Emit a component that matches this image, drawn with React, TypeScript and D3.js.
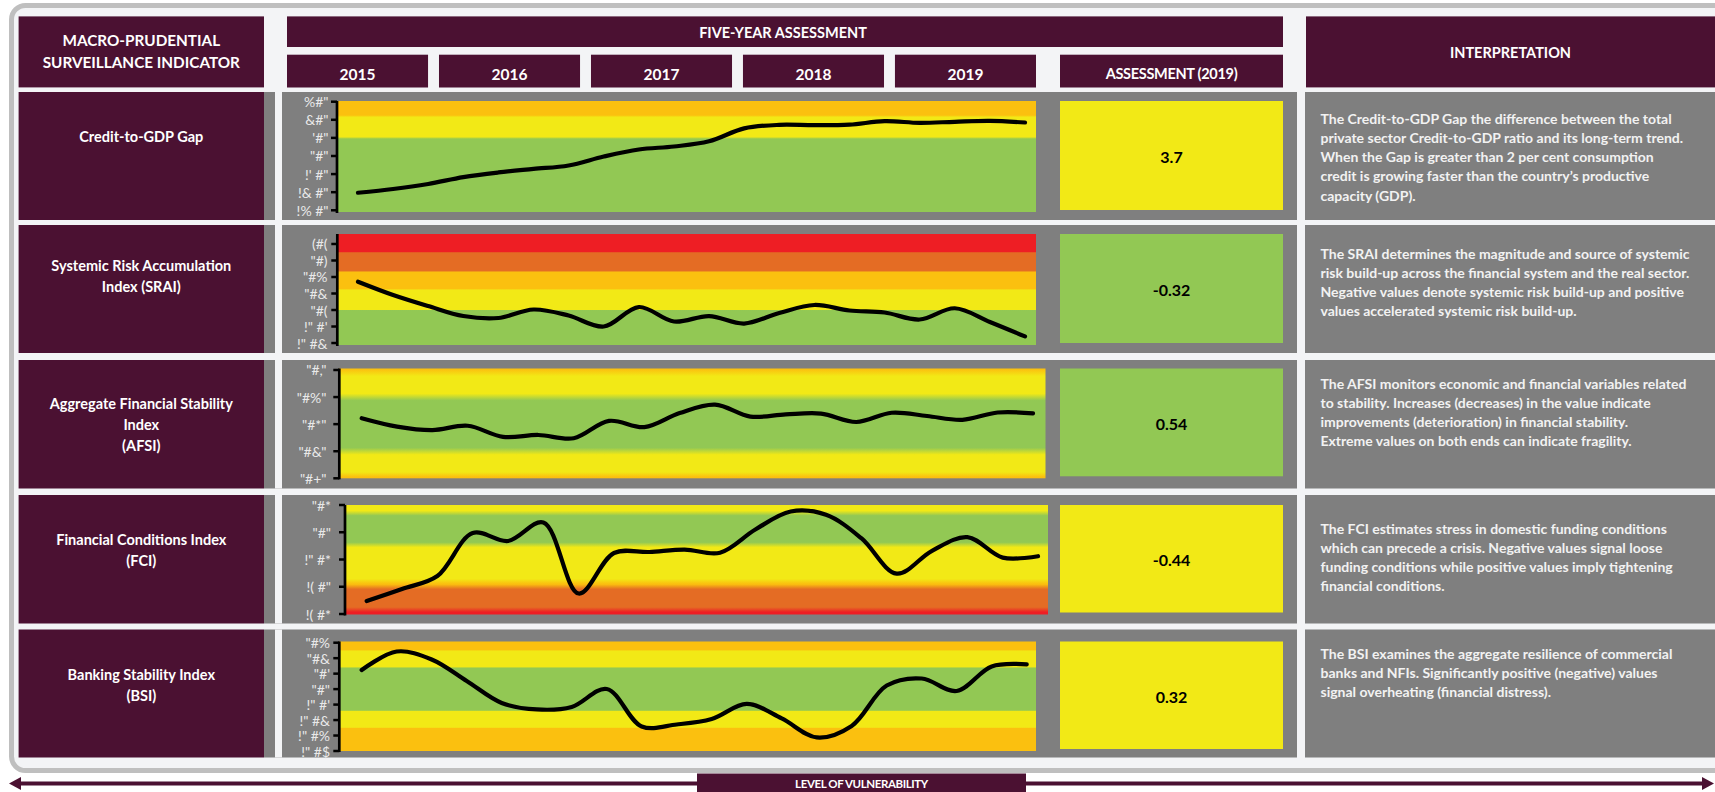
import React, { useEffect, useRef } from 'react';
import * as d3 from 'd3';

// ---------- DATA ----------
const quarters = [
  '2015Q1', '2015Q2', '2015Q3', '2015Q4',
  '2016Q1', '2016Q2', '2016Q3', '2016Q4',
  '2017Q1', '2017Q2', '2017Q3', '2017Q4',
  '2018Q1', '2018Q2', '2018Q3', '2018Q4',
  '2019Q1', '2019Q2', '2019Q3', '2019Q4',
];
const years = ['2015', '2016', '2017', '2018', '2019'];

const creditGap = [-4.06, -3.65, -3.09, -2.33, -1.82, -1.43, -1.05, -0.06, 0.72, 1.05, 1.62, 3.05, 3.44, 3.40, 3.46, 3.85, 3.66, 3.78, 3.87, 3.70];
const srai = [0.343, 0.182, 0.048, -0.073, -0.097, 0.006, -0.067, -0.2, 0.036, -0.139, -0.073, -0.164, -0.036, 0.061, -0.006, -0.03, -0.115, 0.021, -0.145, -0.32];
const afsi = [0.522, 0.491, 0.478, 0.494, 0.453, 0.46, 0.448, 0.512, 0.489, 0.541, 0.572, 0.528, 0.536, 0.539, 0.508, 0.542, 0.53, 0.516, 0.543, 0.54];
const fci = [-1.261, -1.041, -0.803, -0.014, -0.161, 0.179, -1.124, -0.381, -0.362, -0.317, -0.375, 0.05, 0.38, 0.32, -0.11, -0.759, -0.34, -0.09, -0.465, -0.44];
const bsi = [0.247, 0.486, 0.383, 0.105, -0.179, -0.263, -0.231, 0.002, -0.483, -0.457, -0.386, -0.192, -0.379, -0.625, -0.476, 0.046, 0.137, -0.024, 0.293, 0.32];

const creditTicks = [6, 4, 2, 0, -2, -4, -6];
const creditTickLabels = ['%#"', '&#"', "'#\"", '"#"', "!' #\"", '!& #"', '!% #"'];
const sraiTicks = [0.8, 0.6, 0.4, 0.2, 0, -0.2, -0.4];
const sraiTickLabels = ['(#(', '"#)', '"#%', '"#&', '"#(', '!" #\'', '!" #&'];
const afsiTicks = [0.7, 0.6, 0.5, 0.4, 0.3];
const afsiTickLabels = ['"#,"', '"#%"', '"#*"', '"#&"', '"#+"'];
const fciTicks = [0.5, 0, -0.5, -1, -1.5];
const fciTickLabels = ['"#*', '"#"', '!" #*', '!( #"', '!( #*'];
const bsiTicks = [0.6, 0.4, 0.2, 0, -0.2, -0.4, -0.6, -0.8];
const bsiTickLabels = ['"#%', '"#&', '"#\'', '"#"', '!" #\'', '!" #&', '!" #%', '!" #$'];

// threshold zones: [from, to, level]
type Zone = [number, number, string];
const creditZones: Zone[] = [[-6.2, 2, 'green'], [2, 4.4, 'yellow'], [4.4, 6.1, 'orange']];
const sraiZones: Zone[] = [[-0.43, 0, 'green'], [0, 0.25, 'yellow'], [0.25, 0.467, 'orange'], [0.467, 0.7, 'darkOrange'], [0.7, 0.93, 'red']];
const afsiZones: Zone[] = [[0.3, 0.31, 'orange'], [0.31, 0.4, 'yellow'], [0.4, 0.6, 'green'], [0.6, 0.69, 'yellow'], [0.69, 0.71, 'orange']];
const fciZones: Zone[] = [[-1.51, -1.42, 'red'], [-1.42, -1.0, 'darkOrange'], [-1.0, -0.9, 'orange'], [-0.9, -0.23, 'yellow'], [-0.23, 0.35, 'green'], [0.35, 0.5, 'yellow']];
const bsiZones: Zone[] = [[-0.8, -0.5, 'orange'], [-0.5, -0.28, 'yellow'], [-0.28, 0.28, 'green'], [0.28, 0.5, 'yellow'], [0.5, 0.62, 'orange']];

const indicatorNames = [
  ['Credit-to-GDP Gap'],
  ['Systemic Risk Accumulation', 'Index (SRAI)'],
  ['Aggregate Financial Stability', 'Index', '(AFSI)'],
  ['Financial Conditions Index', '(FCI)'],
  ['Banking Stability Index', '(BSI)'],
];
const assessmentValues = ['3.7', '-0.32', '0.54', '-0.44', '0.32'];
const assessmentLevels = ['yellow', 'green', 'green', 'yellow', 'yellow'];
const interpretations = [
  ['The Credit-to-GDP Gap the difference between the total', 'private sector Credit-to-GDP ratio and its long-term trend.', 'When the Gap is greater than 2 per cent consumption', 'credit is growing faster than the country\u2019s productive', 'capacity (GDP).'],
  ['The SRAI determines the magnitude and source of systemic', 'risk build-up across the financial system and the real sector.', 'Negative values denote systemic risk build-up and positive', 'values accelerated systemic risk build-up.'],
  ['The AFSI monitors economic and financial variables related', 'to stability. Increases (decreases) in the value indicate', 'improvements (deterioration) in financial stability.', 'Extreme values on both ends can indicate fragility.'],
  ['The FCI estimates stress in domestic funding conditions', 'which can precede a crisis. Negative values signal loose', 'funding conditions while positive values imply tightening', 'financial conditions.'],
  ['The BSI examines the aggregate resilience of commercial', 'banks and NFIs. Significantly positive (negative) values', 'signal overheating (financial distress).'],
];

const seriesList = [creditGap, srai, afsi, fci, bsi];
const tickList = [creditTicks, sraiTicks, afsiTicks, fciTicks, bsiTicks];
const tickLabelList = [creditTickLabels, sraiTickLabels, afsiTickLabels, fciTickLabels, bsiTickLabels];
const zoneList = [creditZones, sraiZones, afsiZones, fciZones, bsiZones];

// ---------- STYLE / LAYOUT ----------
const COLORS: Record<string, string> = {
  green: '#92c854',
  yellow: '#f2e916',
  orange: '#fbc00f',
  darkOrange: '#e46c24',
  red: '#ee1e24',
};
const PURPLE = '#4b1132';
const PANEL = '#7f7f7f';
const LIGHT = '#f3f4f6';
const FONT = 'Lato, "Open Sans", sans-serif';

const ROWS = [
  { top: 92, bottom: 220, plotTop: 101, plotBottom: 212, axisX: 337, plotRight: 1036, x0: 358, x1: 1025, dom: [-6.19, 6.077], blend: 2, labelRight: 328.5, nameY: 44.7, textY: 26.3 },
  { top: 225, bottom: 353, plotTop: 234, plotBottom: 345, axisX: 337.3, plotRight: 1036, x0: 358, x1: 1025, dom: [-0.424, 0.921], blend: 1, labelRight: 327.5, nameY: 40.8, textY: 28.3 },
  { top: 360, bottom: 488.5, plotTop: 368.5, plotBottom: 478.3, axisX: 339.3, plotRight: 1045.5, x0: 361.7, x1: 1033, dom: [0.3, 0.7055], blend: 7, labelRight: 326.5, nameY: 43.6, textY: 23.3 },
  { top: 495, bottom: 623.5, plotTop: 505, plotBottom: 614.5, axisX: 345, plotRight: 1048, x0: 366.7, x1: 1038, dom: [-1.509, 0.5], blend: 5, labelRight: 331, nameY: 44.2, textY: 33.3 },
  { top: 629.5, bottom: 757.5, plotTop: 641.5, plotBottom: 751, axisX: 339.3, plotRight: 1036, x0: 361.7, x1: 1026.7, dom: [-0.8, 0.6155], blend: 1, labelRight: 330, nameY: 45.3, textY: 23.8 },
];

function zoneStops(zones: Zone[], y: d3.ScaleLinear<number, number>, top: number, bottom: number, blend: number) {
  const sorted = [...zones].sort((a, b) => b[1] - a[1]);
  const h = bottom - top;
  const stops: { offset: number; color: string }[] = [];
  sorted.forEach((z, i) => {
    const y0 = Math.max(top, y(z[1]));
    const y1 = Math.min(bottom, y(z[0]));
    let s = i === 0 ? y0 : y0 + blend / 2;
    let e = i === sorted.length - 1 ? y1 : y1 - blend / 2;
    if (e < s) { const m = (y0 + y1) / 2; s = m; e = m; }
    const c = COLORS[z[2]];
    stops.push({ offset: Math.min(1, Math.max(0, (s - top) / h)), color: c });
    stops.push({ offset: Math.min(1, Math.max(0, (e - top) / h)), color: c });
  });
  return stops;
}

function ChartRow({ idx }: { idx: number }) {
  const r = ROWS[idx];
  const data = seriesList[idx];
  const x = d3.scalePoint<string>().domain(quarters).range([r.x0, r.x1]);
  const y = d3.scaleLinear().domain(r.dom).range([r.plotBottom, r.plotTop]);
  const line = d3.line<number>()
    .x((_, i) => x(quarters[i]) as number)
    .y((d) => y(d))
    .curve(d3.curveCatmullRom.alpha(0.5));
  const stops = zoneStops(zoneList[idx], y, r.plotTop, r.plotBottom, r.blend);
  const gid = `zones-${idx}`;
  return (
    <g>
      <defs>
        <linearGradient id={gid} x1="0" y1="0" x2="0" y2="1">
          {stops.map((s, i) => (
            <stop key={i} offset={s.offset} stopColor={s.color} />
          ))}
        </linearGradient>
      </defs>
      <rect x={r.axisX} y={r.plotTop} width={r.plotRight - r.axisX} height={r.plotBottom - r.plotTop} fill={`url(#${gid})`} />
      <line x1={r.axisX} x2={r.axisX} y1={r.plotTop} y2={r.plotBottom + 1} stroke="#000" strokeWidth={2.7} />
      {tickList[idx].map((t, i) => (
        <g key={i}>
          <line x1={r.axisX - 6} x2={r.axisX} y1={y(t)} y2={y(t)} stroke="#000" strokeWidth={2.5} />
          <text x={r.labelRight} y={y(t)} textAnchor="end" dominantBaseline="central" fontFamily={FONT} fontSize={14} fill="#e9e9e9" style={{ whiteSpace: 'pre' }}>
            {tickLabelList[idx][i]}
          </text>
        </g>
      ))}
      <path d={line(data) || ''} fill="none" stroke="#000" strokeWidth={4.2} strokeLinecap="round" strokeLinejoin="round" />
    </g>
  );
}

export default function App() {
  const svgRef = useRef<SVGSVGElement>(null);
  useEffect(() => {
    document.body.style.margin = '0';
    const svg = svgRef.current;
    if (!svg) return;
    svg.querySelectorAll<SVGTextElement>('text[data-maxw]').forEach((t) => {
      const maxw = Number(t.getAttribute('data-maxw'));
      const w = t.getComputedTextLength();
      if (w > maxw) {
        t.setAttribute('textLength', String(maxw));
        t.setAttribute('lengthAdjust', 'spacingAndGlyphs');
      }
    });
  }, []);

  const yearBand = d3.scaleBand<string>().domain(years).range([287, 1036]).paddingInner(0.072).paddingOuter(0);

  return (
    <svg ref={svgRef} width={1715} height={792} style={{ position: 'absolute', left: 0, top: 0, display: 'block' }} fontFamily={FONT}>
      <rect x={0} y={0} width={1715} height={792} fill="#ffffff" />
      {/* outer frame */}
      <rect x={11.5} y={5.5} width={1740} height={765} rx={14} fill={LIGHT} stroke="#bfbfbf" strokeWidth={5} />

      {/* header */}
      <rect x={18.6} y={16.4} width={245.4} height={71} fill={PURPLE} />
      <text x={141.3} y={39.5} textAnchor="middle" dominantBaseline="central" fill="#fff" fontWeight={700} fontSize={15.3}>MACRO-PRUDENTIAL</text>
      <text x={141.3} y={61.5} textAnchor="middle" dominantBaseline="central" fill="#fff" fontWeight={700} fontSize={15.3}>SURVEILLANCE INDICATOR</text>

      <rect x={287} y={16.4} width={996} height={30.6} fill={PURPLE} />
      <text x={783} y={32} textAnchor="middle" dominantBaseline="central" fill="#fff" fontWeight={700} fontSize={14.5}>FIVE-YEAR ASSESSMENT</text>

      {years.map((yr) => (
        <g key={yr}>
          <rect x={yearBand(yr)} y={54.7} width={yearBand.bandwidth()} height={32.8} fill={PURPLE} />
          <text x={(yearBand(yr) as number) + yearBand.bandwidth() / 2} y={73.5} textAnchor="middle" dominantBaseline="central" fill="#fff" fontWeight={700} fontSize={15.5}>{yr}</text>
        </g>
      ))}
      <rect x={1060} y={54.7} width={223} height={32.8} fill={PURPLE} />
      <text x={1171.5} y={73.5} textAnchor="middle" dominantBaseline="central" fill="#fff" fontWeight={700} fontSize={14.5} letterSpacing={-0.3}>ASSESSMENT (2019)</text>

      <rect x={1306} y={16.4} width={420} height={71} fill={PURPLE} />
      <text x={1510.5} y={52.5} textAnchor="middle" dominantBaseline="central" fill="#fff" fontWeight={700} fontSize={14.5}>INTERPRETATION</text>

      {/* rows */}
      {ROWS.map((r, i) => (
        <g key={i}>
          <rect x={18.6} y={r.top} width={245.4} height={r.bottom - r.top} fill={PURPLE} />
          <rect x={264} y={r.top} width={1033} height={r.bottom - r.top} fill={PANEL} />
          <rect x={275} y={r.top} width={7} height={r.bottom - r.top} fill={LIGHT} />
          <rect x={1305} y={r.top} width={420} height={r.bottom - r.top} fill={PANEL} />
          {indicatorNames[i].map((ln, k) => (
            <text key={k} x={141.3} y={r.top + r.nameY + k * 21} textAnchor="middle" dominantBaseline="central" fill="#fff" fontWeight={700} fontSize={14.5}>{ln}</text>
          ))}
          <ChartRow idx={i} />
          <rect x={1060} y={r.plotTop} width={223} height={r.plotBottom - r.plotTop - 2} fill={COLORS[assessmentLevels[i]]} />
          <text x={1171.5} y={(r.plotTop + r.plotBottom) / 2} textAnchor="middle" dominantBaseline="central" fill="#000" fontWeight={700} fontSize={16}>{assessmentValues[i]}</text>
          {interpretations[i].map((ln, k) => (
            <text key={k} data-maxw={392} x={1320.5} y={r.top + r.textY + k * 19.2} dominantBaseline="central" fill="#f2f2f2" fontWeight={700} fontSize={14}>{ln}</text>
          ))}
        </g>
      ))}

      {/* level of vulnerability arrow */}
      <line x1={18} x2={1706} y1={783.5} y2={783.5} stroke={PURPLE} strokeWidth={4} />
      <polygon points="9,783.5 21,777 21,790" fill={PURPLE} />
      <polygon points="1714,783.5 1702,777 1702,790" fill={PURPLE} />
      <rect x={697} y={773.5} width={329} height={18.5} fill={PURPLE} />
      <text x={861.5} y={783.5} textAnchor="middle" dominantBaseline="central" fill="#fff" fontWeight={700} fontSize={11.5} letterSpacing={-0.4}>LEVEL OF VULNERABILITY</text>
    </svg>
  );
}
